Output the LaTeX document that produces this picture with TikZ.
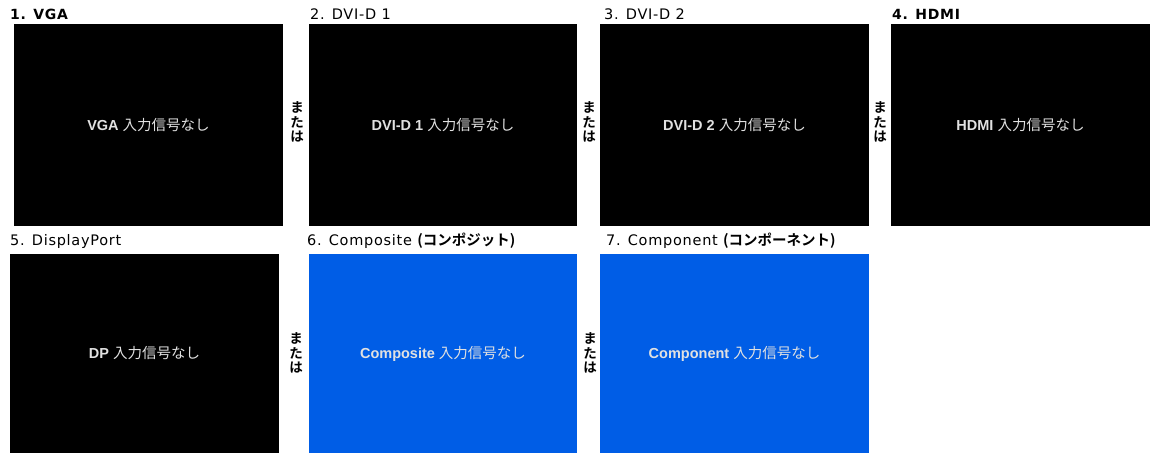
\documentclass[tikz,border=0pt]{standalone}
\usepackage{fontspec}
\setmainfont{DejaVu Sans}[LetterSpace=5.0]
\setsansfont{Liberation Sans}
\newfontfamily\jpfont{Noto Sans CJK JP}
\newfontfamily\jpbold{Noto Sans CJK JP Bold}
\definecolor{compBlue}{RGB}{0,93,230}
\definecolor{msgGray}{RGB}{225,225,225}
\newcommand{\jpmsg}[1]{{\jpfont\mdseries #1}}

\begin{document}
\begin{tikzpicture}[
    x=1pt, y=-1pt,
    % Define the style for the black screens
    screen/.style={
        rectangle,
        fill=black,
        inner sep=0pt,
        minimum height=202pt
    },
    % Define the style for the blue screens (video inputs)
    blueScreen/.style={
        screen,
        fill=compBlue,
        minimum height=199pt
    },
    % Define the style for the message shown on a screen
    msgLabel/.style={
        text=msgGray,
        font=\fontsize{14.5}{16}\selectfont\sffamily\bfseries
    },
    % Define the style for the titles above the screens
    titleLabel/.style={
        anchor=base west,
        inner sep=0pt,
        font=\fontsize{14.5}{16}\selectfont
    },
    % Define the style for the vertical "or" between screens
    orLabel/.style={
        align=center,
        inner sep=0pt,
        font=\fontsize{13.5}{14.5}\selectfont\jpbold
    }
]

    \useasboundingbox (0,0) rectangle (1150,453);

    % --- SCREENS ---
    % Top row
    \node[screen, minimum width=269pt] (vga)  at (148.5,125) {};
    \node[screen, minimum width=268pt] (dvi1) at (443,125)   {};
    \node[screen, minimum width=269pt] (dvi2) at (734.5,125) {};
    \node[screen, minimum width=259pt] (hdmi) at (1020.5,125) {};

    % Bottom row
    \node[screen, minimum width=269pt, minimum height=199pt] (dp) at (144.5,353.5) {};
    \node[blueScreen, minimum width=268pt] (comp)  at (443,353.5)   {};
    \node[blueScreen, minimum width=269pt] (compo) at (734.5,353.5) {};

    % --- MESSAGES ---
    \node[msgLabel] (vgaMsg)   at (vga)   {VGA \jpmsg{入力信号なし}};
    \node[msgLabel] (dvi1Msg)  at (dvi1)  {DVI-D 1 \jpmsg{入力信号なし}};
    \node[msgLabel] (dvi2Msg)  at (dvi2)  {DVI-D 2 \jpmsg{入力信号なし}};
    \node[msgLabel] (hdmiMsg)  at (hdmi)  {HDMI \jpmsg{入力信号なし}};
    \node[msgLabel] (dpMsg)    at (dp)    {DP \jpmsg{入力信号なし}};
    \node[msgLabel] (compMsg)  at (comp)  {Composite \jpmsg{入力信号なし}};
    \node[msgLabel] (compoMsg) at (compo) {Component \jpmsg{入力信号なし}};

    % --- TITLES ---
    \node[titleLabel] (vgaTitle)   at (10,19)   {\bfseries\fontsize{14}{16}\selectfont 1. VGA};
    \node[titleLabel] (dvi1Title)  at (310,19)  {2. DVI-D 1};
    \node[titleLabel] (dvi2Title)  at (604,19)  {3. DVI-D 2};
    \node[titleLabel] (hdmiTitle)  at (892,19)  {\bfseries\fontsize{14}{16}\selectfont 4. HDMI};
    \node[titleLabel] (dpTitle)    at (10,245)  {5. DisplayPort};
    \node[titleLabel] (compTitle)  at (307,245) {6. Composite {\jpbold\fontsize{14.5}{16}\selectfont (コンポジット)}};
    \node[titleLabel] (compoTitle) at (606,245) {7. Component {\jpbold\fontsize{14.5}{16}\selectfont (コンポーネント)}};

    % --- "OR" BETWEEN SCREENS ---
    \foreach \i/\x/\y in {1/297/122, 2/589/122, 3/880/122, 4/296/353, 5/590/353} {
        \node[orLabel] (or\i) at (\x,\y) {ま\\た\\は};
    }

\end{tikzpicture}
\end{document}
